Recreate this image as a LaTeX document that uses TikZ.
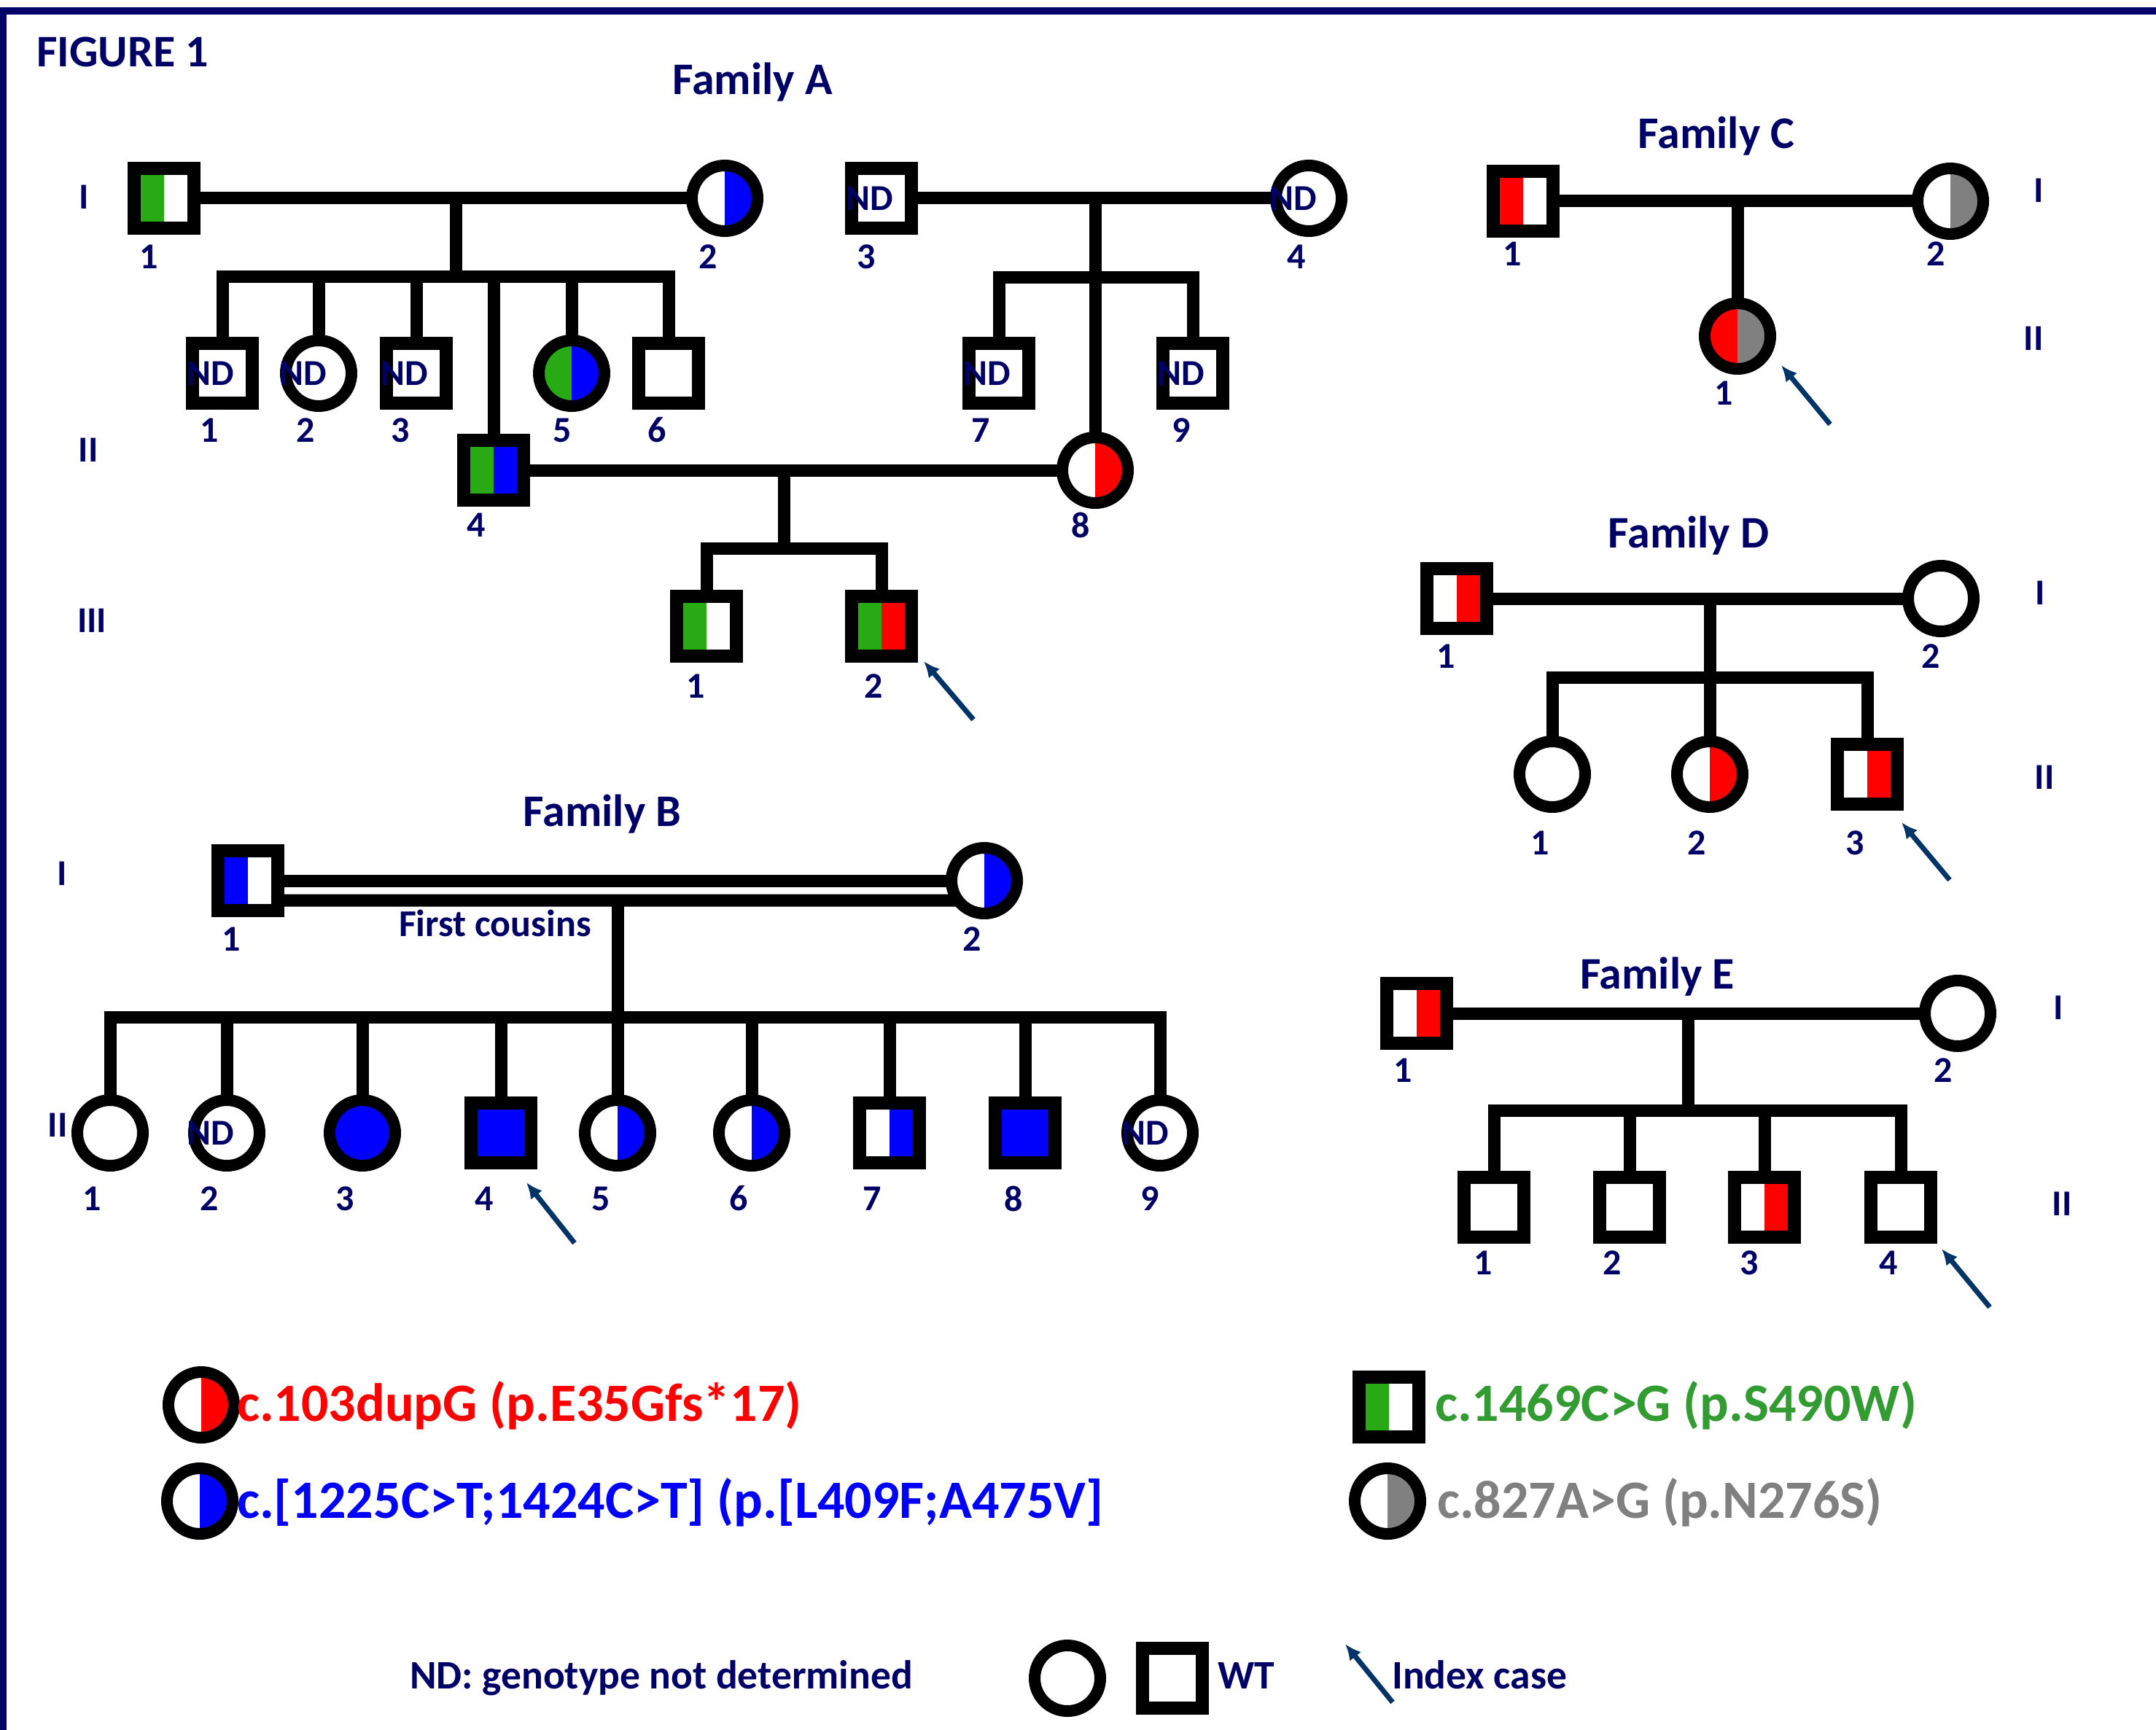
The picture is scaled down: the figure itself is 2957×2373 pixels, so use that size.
\documentclass[tikz,border=0pt]{standalone}
\usepackage{fontspec}
\setmainfont{Carlito}
\usetikzlibrary{arrows.meta}

\definecolor{inkblue}{RGB}{0,0,102}
\definecolor{arrowblue}{RGB}{0,51,102}
\definecolor{fillgreen}{RGB}{40,170,20}
\definecolor{textgreen}{RGB}{50,155,50}
\definecolor{midgray}{RGB}{128,128,128}

\newcommand\numfont{\fontsize{50}{60}\selectfont\bfseries}
\newcommand\cousfont{\fontsize{52}{62}\selectfont\bfseries}
\newcommand\titlefont{\fontsize{62}{74}\selectfont\bfseries}
\newcommand\keyfont{\fontsize{74}{88}\selectfont\bfseries}
\newcommand\notefont{\fontsize{55.5}{66}\selectfont\bfseries}

\tikzset{
  male/.style={rectangle, draw=black, fill=white, line width=18pt, minimum size=82pt, inner sep=0pt, outer sep=0pt},
  female/.style={circle, draw=black, fill=white, line width=16pt, minimum size=90pt, inner sep=0pt, outer sep=0pt},
  halves/.style 2 args={path picture={
      \fill[#1] (path picture bounding box.south west) rectangle (path picture bounding box.north);
      \fill[#2] (path picture bounding box.south) rectangle (path picture bounding box.north east);}},
  lhalf/.style={halves={#1}{white}},
  rhalf/.style={halves={white}{#1}},
  rel/.style={draw=black, line width=17pt},
  num/.style={text=inkblue, font=\numfont, inner sep=0pt},
  ndtxt/.style={text=inkblue, font=\numfont, inner sep=0pt},
  gen/.style={text=inkblue, font=\numfont, inner sep=0pt},
  ttl/.style={text=inkblue, font=\titlefont, inner sep=0pt, anchor=base},
  keytxt/.style={font=\keyfont, inner sep=0pt, anchor=base west},
  note/.style={text=inkblue, font=\notefont, inner sep=0pt, anchor=base west},
  idx/.style={draw=arrowblue, line width=7pt, -{Latex[length=22pt,width=20pt]}},
}

\begin{document}
\begin{tikzpicture}[x=1pt,y=-1pt]
\useasboundingbox (0,0) rectangle (2957,2373);
\fill[white] (0,0) rectangle (2957,2373);
% frame
\fill[inkblue] (0,10) rectangle (2957,20);
\fill[inkblue] (0,10) rectangle (9,2373);

\node[ttl, anchor=base west] (fig) at (50,92) {FIGURE 1};

% ---------------- Family A ----------------
\node[ttl] (ttlA) at (1032,130) {Family A};
\node[male, lhalf=fillgreen] (a1) at (225,272) {};
\node[female, rhalf=blue] (a2) at (994,272) {};
\node[male] (a3) at (1209,272) {};
\node[female] (a4) at (1795,272) {};
\node[male] (a5) at (305,512) {};
\node[female] (a6) at (437,512) {};
\node[male] (a7) at (571,512) {};
\node[male, halves={fillgreen}{blue}] (a8) at (677,645) {};
\node[female, halves={fillgreen}{blue}] (a9) at (784,512) {};
\node[male] (a10) at (917,512) {};
\node[male] (a11) at (1370,512) {};
\node[female, rhalf=red] (a12) at (1502,645) {};
\node[male] (a13) at (1636,512) {};
\node[male, lhalf=fillgreen] (a14) at (969,859) {};
\node[male, halves={fillgreen}{red}] (a15) at (1209,859) {};

\coordinate (mA1) at (625,272);
\coordinate (sA1) at (625,379);
\draw[rel] (a1.east) -- (a2.west);
\draw[rel] (mA1) -- (sA1);
\draw[rel] (a5.north) -- (a5.north |- sA1) -- (a10.north |- sA1) -- (a10.north);
\foreach \c in {a6,a7,a8,a9} \draw[rel] (\c.north) -- (\c.north |- sA1);

\coordinate (mA2) at (1502,272);
\coordinate (sA2) at (1502,380);
\draw[rel] (a3.east) -- (a4.west);
\draw[rel] (mA2) -- (a12.north);
\draw[rel] (a11.north) -- (a11.north |- sA2) -- (a13.north |- sA2) -- (a13.north);

\coordinate (mA3) at (1075,645);
\coordinate (sA3) at (1075,752);
\draw[rel] (a8.east) -- (a12.west);
\draw[rel] (mA3) -- (sA3);
\draw[rel] (a14.north) -- (a14.north |- sA3) -- (a15.north |- sA3) -- (a15.north);

\node[ndtxt] (nda3) at (1193,272) {ND};
\node[ndtxt] (nda4) at (1774,272) {ND};
\node[ndtxt] (nda5) at (289,512) {ND};
\node[ndtxt] (nda6) at (416,512) {ND};
\node[ndtxt] (nda7) at (555,512) {ND};
\node[ndtxt] (nda11) at (1354,512) {ND};
\node[ndtxt] (nda13) at (1620,512) {ND};

\node[num] (la1) at (204,352) {1};
\node[num] (la2) at (971,352) {2};
\node[num] (la3) at (1188,352) {3};
\node[num] (la4) at (1778,352) {4};
\node[num] (la5) at (287,590) {1};
\node[num] (la6) at (419,590) {2};
\node[num] (la7) at (549,590) {3};
\node[num] (la8) at (653,720) {4};
\node[num] (la9) at (771,590) {5};
\node[num] (la10) at (901,590) {6};
\node[num] (la11) at (1345,590) {7};
\node[num] (la12) at (1482,720) {8};
\node[num] (la13) at (1620,590) {9};
\node[num] (la14) at (954,941) {1};
\node[num] (la15) at (1198,941) {2};

\node[gen] (gA1) at (115,270) {I};
\node[gen] (gA2) at (121,617) {II};
\node[gen] (gA3) at (126,851) {III};

\coordinate (tA) at (1335,987);
\coordinate (hA) at (1267,907);
\draw[idx] (tA) -- (hA);

% ---------------- Family B ----------------
\node[ttl] (ttlB) at (826,1133) {Family B};
\node[male, lhalf=blue] (b1) at (340,1208) {};
\node[female, rhalf=blue] (b2) at (1350,1208) {};
\node[female] (bc1) at (151,1554) {};
\node[female] (bc2) at (311,1554) {};
\node[female, fill=blue] (bc3) at (497,1554) {};
\node[male, fill=blue] (bc4) at (687,1554) {};
\node[female, rhalf=blue] (bc5) at (847,1554) {};
\node[female, rhalf=blue] (bc6) at (1031,1554) {};
\node[male, rhalf=blue] (bc7) at (1220,1554) {};
\node[male, fill=blue] (bc8) at (1406,1554) {};
\node[female] (bc9) at (1591,1554) {};

\coordinate (mB) at (847,1235);
\coordinate (sB) at (847,1395);
\draw[rel] (b1.east) -- (b2.west);
\draw[rel] (b1.east |- mB) -- (b2.217);
\draw[rel] (mB) -- (bc5.north);
\draw[rel] (bc1.north) -- (bc1.north |- sB) -- (bc9.north |- sB) -- (bc9.north);
\foreach \c in {bc2,bc3,bc4,bc6,bc7,bc8} \draw[rel] (\c.north) -- (\c.north |- sB);

\node[ndtxt] (ndbc2) at (289,1554) {ND};
\node[ndtxt] (ndbc9) at (1571,1554) {ND};
\node[num, font=\cousfont, anchor=base] (cous) at (679,1284) {First cousins};

\node[num] (lb1) at (317,1288) {1};
\node[num] (lb2) at (1333,1288) {2};
\node[num] (lbc1) at (126,1644) {1};
\node[num] (lbc2) at (287,1644) {2};
\node[num] (lbc3) at (473,1644) {3};
\node[num] (lbc4) at (664,1644) {4};
\node[num] (lbc5) at (824,1644) {5};
\node[num] (lbc6) at (1013,1644) {6};
\node[num] (lbc7) at (1196,1644) {7};
\node[num] (lbc8) at (1390,1644) {8};
\node[num] (lbc9) at (1577,1644) {9};

\node[gen] (gB1) at (85,1198) {I};
\node[gen] (gB2) at (79,1543) {II};

\coordinate (tB) at (788,1705);
\coordinate (hB) at (722,1622);
\draw[idx] (tB) -- (hB);

% ---------------- Family C ----------------
\node[ttl] (ttlC) at (2354,204) {Family C};
\node[male, lhalf=red] (c1) at (2089,276) {};
\node[female, rhalf=midgray] (c2) at (2675,276) {};
\node[female, halves={red}{midgray}] (c3) at (2383,461) {};
\coordinate (mC) at (2383,276);
\draw[rel] (c1.east) -- (c2.west);
\draw[rel] (mC) -- (c3.north);

\node[num] (lc1) at (2074,348) {1};
\node[num] (lc2) at (2655,348) {2};
\node[num] (lc3) at (2364,539) {1};
\node[gen] (gC1) at (2796,261) {I};
\node[gen] (gC2) at (2789,464) {II};

\coordinate (tC) at (2510,582);
\coordinate (hC) at (2443,501);
\draw[idx] (tC) -- (hC);

% ---------------- Family D ----------------
\node[ttl] (ttlD) at (2316,751) {Family D};
\node[male, rhalf=red] (d1) at (1998,821) {};
\node[female] (d2) at (2662,821) {};
\node[female] (d3) at (2129,1062) {};
\node[female, rhalf=red] (d4) at (2345,1062) {};
\node[male, rhalf=red] (d5) at (2561,1062) {};
\coordinate (mD) at (2345,821);
\coordinate (sD) at (2345,929);
\draw[rel] (d1.east) -- (d2.west);
\draw[rel] (mD) -- (d4.north);
\draw[rel] (d3.north) -- (d3.north |- sD) -- (d5.north |- sD) -- (d5.north);

\node[num] (ld1) at (1983,900) {1};
\node[num] (ld2) at (2648,900) {2};
\node[num] (ld3) at (2112,1156) {1};
\node[num] (ld4) at (2327,1156) {2};
\node[num] (ld5) at (2544,1156) {3};
\node[gen] (gD1) at (2798,813) {I};
\node[gen] (gD2) at (2804,1066) {II};

\coordinate (tD) at (2674,1207);
\coordinate (hD) at (2608,1128);
\draw[idx] (tD) -- (hD);

% ---------------- Family E ----------------
\node[ttl] (ttlE) at (2273,1356) {Family E};
\node[male, rhalf=red] (e1) at (1943,1390) {};
\node[female] (e2) at (2685,1390) {};
\node[male] (e3) at (2049,1656) {};
\node[male] (e4) at (2235,1656) {};
\node[male, rhalf=red] (e5) at (2420,1656) {};
\node[male] (e6) at (2607,1656) {};
\coordinate (mE) at (2315,1390);
\coordinate (sE) at (2315,1523);
\draw[rel] (e1.east) -- (e2.west);
\draw[rel] (mE) -- (sE);
\draw[rel] (e3.north) -- (e3.north |- sE) -- (e6.north |- sE) -- (e6.north);
\foreach \c in {e4,e5} \draw[rel] (\c.north) -- (\c.north |- sE);

\node[num] (le1) at (1924,1468) {1};
\node[num] (le2) at (2665,1468) {2};
\node[num] (le3) at (2034,1732) {1};
\node[num] (le4) at (2211,1732) {2};
\node[num] (le5) at (2399,1732) {3};
\node[num] (le6) at (2590,1732) {4};
\node[gen] (gE1) at (2823,1382) {I};
\node[gen] (gE2) at (2828,1651) {II};

\coordinate (tE) at (2729,1793);
\coordinate (hE) at (2663,1713);
\draw[idx] (tE) -- (hE);

% ---------------- Key ----------------
\node[female, rhalf=red] (kred) at (276,1927) {};
\node[keytxt, text=red] (kredt) at (325,1949) {c.103dupG (p.E35Gfs*17)};
\node[female, rhalf=blue] (kblue) at (274,2059) {};
\node[keytxt, text=blue] (kbluet) at (325,2082) {c.[1225C>T;1424C>T] (p.[L409F;A475V]};
\node[male, lhalf=fillgreen] (kgreen) at (1905,1930) {};
\node[keytxt, text=textgreen] (kgreent) at (1968,1949) {c.1469C>G (p.S490W)};
\node[female, rhalf=midgray] (kgray) at (1903,2059) {};
\node[keytxt, text=midgray] (kgrayt) at (1971,2082) {c.827A>G (p.N276S)};

\node[note] (ndnote) at (562,2316) {ND: genotype not determined};
\node[female] (wtf) at (1464,2302) {};
\node[male] (wtm) at (1608,2302) {};
\node[note] (wtt) at (1670,2316) {WT};
\coordinate (tK) at (1910,2335);
\coordinate (hK) at (1845,2255);
\draw[idx] (tK) -- (hK);
\node[note] (idxt) at (1909,2316) {Index case};
\end{tikzpicture}
\end{document}
